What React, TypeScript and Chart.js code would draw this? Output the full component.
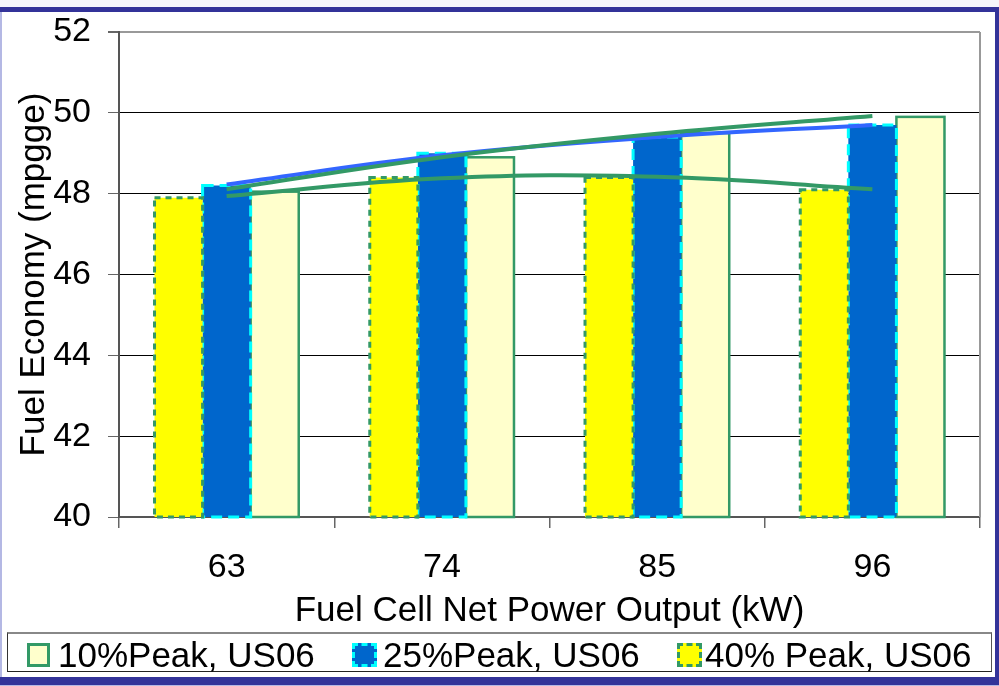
import React, { useEffect, useRef } from 'react';
import { Chart, registerables } from 'chart.js';

Chart.register(...registerables);

const categories = ['63', '74', '85', '96'];
const peak40 = [47.9, 48.4, 48.4, 48.1];
const peak25 = [48.2, 49.0, 49.4, 49.7];
const peak10 = [48.05, 48.9, 49.5, 49.9];
const trend10 = [48.11, 48.9, 49.48, 49.92];
const trend25 = [48.23, 48.95, 49.4, 49.7];
const trend40 = [47.94, 48.38, 48.42, 48.11];
const yMin = 40;
const yMax = 52;
const yStep = 2;
const seriesLabels = ['10%Peak, US06', '25%Peak, US06', '40% Peak, US06'];
const xTitle = 'Fuel Cell Net Power Output (kW)';
const yTitle = 'Fuel Economy (mpgge)';

const FONT = '"Liberation Sans", Arial, sans-serif';
const GREEN = '#339966';
const CYAN = '#00FFFF';
const BLUE = '#0066CC';
const YELLOW = '#FFFF00';
const CREAM = '#FFFFCC';
const TREND_BLUE = '#3366FF';
const FRAME_BLUE = '#333399';

const barBorderPlugin = {
  id: 'barBorder',
  afterDatasetDraw(chart: any, args: any) {
    const ds: any = chart.data.datasets[args.index];
    const b = ds.dashBorder;
    if (!b) return;
    const ctx = chart.ctx;
    const area = chart.chartArea;
    ctx.save();
    ctx.strokeStyle = b.color;
    ctx.lineWidth = b.width;
    ctx.setLineDash(b.dash);
    args.meta.data.forEach((el: any) => {
      const p = el.getProps(['x', 'y', 'base', 'width'], true);
      const l = p.x - p.width / 2;
      const top = Math.max(p.y, area.top);
      const bottom = Math.min(p.base, area.bottom);
      ctx.strokeRect(l, top, p.width, bottom - top);
    });
    ctx.restore();
  },
};

const plotFramePlugin = {
  id: 'plotFrame',
  beforeDatasetsDraw(chart: any) {
    const { ctx, chartArea: a } = chart;
    ctx.save();
    ctx.strokeStyle = '#999';
    ctx.lineWidth = 2;
    ctx.beginPath();
    ctx.moveTo(a.right, a.top);
    ctx.lineTo(a.right, a.bottom);
    ctx.stroke();
    ctx.restore();
  },
};

export default function App() {
  const ref = useRef<HTMLCanvasElement>(null);

  useEffect(() => {
    document.body.style.margin = '0';
    Chart.defaults.font.family = FONT;
    const canvas = ref.current;
    if (!canvas) return;
    const chart = new Chart(canvas, {
      type: 'bar',
      data: {
        labels: categories,
        datasets: [
          {
            type: 'bar',
            label: seriesLabels[2],
            data: peak40,
            backgroundColor: YELLOW,
            borderWidth: 0,
            order: 1,
            categoryPercentage: 0.67,
            barPercentage: 1,
            dashBorder: { color: GREEN, width: 3, dash: [6, 5] },
          } as any,
          {
            type: 'bar',
            label: seriesLabels[1],
            data: peak25,
            backgroundColor: BLUE,
            borderWidth: 0,
            order: 1,
            categoryPercentage: 0.67,
            barPercentage: 1,
            dashBorder: { color: CYAN, width: 3, dash: [11, 6] },
          } as any,
          {
            type: 'bar',
            label: seriesLabels[0],
            data: peak10,
            backgroundColor: CREAM,
            borderWidth: 0,
            order: 1,
            categoryPercentage: 0.67,
            barPercentage: 1,
            dashBorder: { color: GREEN, width: 2.5, dash: [] },
          } as any,
          {
            type: 'line',
            label: 'Trend 10%',
            data: trend10,
            borderColor: GREEN,
            borderWidth: 4,
            pointRadius: 0,
            tension: 0.4,
            fill: false,
            order: 0,
          } as any,
          {
            type: 'line',
            label: 'Trend 25%',
            data: trend25,
            borderColor: TREND_BLUE,
            borderWidth: 4,
            pointRadius: 0,
            tension: 0.4,
            fill: false,
            order: 0,
          } as any,
          {
            type: 'line',
            label: 'Trend 40%',
            data: trend40,
            borderColor: GREEN,
            borderWidth: 4,
            pointRadius: 0,
            tension: 0.4,
            fill: false,
            order: 0,
          } as any,
        ],
      },
      options: {
        animation: false,
        responsive: false,
        layout: { padding: { left: 0, top: 32, right: 19, bottom: 54 } },
        plugins: {
          legend: { display: false },
          tooltip: { enabled: false },
        },
        scales: {
          x: {
            grid: {
              offset: true,
              drawOnChartArea: false,
              tickLength: 11,
              color: '#666',
              lineWidth: 1.5,
            },
            border: { color: '#555', width: 2 },
            ticks: { font: { size: 34, family: FONT }, color: '#000', padding: 19 },
            title: {
              display: true,
              text: xTitle,
              font: { size: 35, family: FONT },
              color: '#000',
              padding: { top: 0, bottom: 0 },
            },
            afterFit: (s: any) => {
              s.height = 115;
              s.paddingLeft = 0;
              s.paddingRight = 0;
            },
          },
          y: {
            min: yMin,
            max: yMax,
            ticks: { stepSize: yStep, font: { size: 34, family: FONT }, color: '#000', padding: 17 },
            grid: {
              color: (c: any) => (c.tick && c.tick.value === yMax ? '#999' : '#000'),
              lineWidth: (c: any) => (c.tick && c.tick.value === yMax ? 2 : 1),
              tickColor: '#666',
              tickLength: 11,
            },
            border: { color: '#555', width: 2 },
            title: {
              display: true,
              text: yTitle,
              font: { size: 35, family: FONT },
              color: '#000',
              padding: { top: 13, bottom: 0 },
            },
            afterFit: (s: any) => {
              s.width = 119;
              s.paddingTop = 0;
              s.paddingBottom = 0;
            },
          },
        },
      } as any,
      plugins: [barBorderPlugin, plotFramePlugin],
    });
    return () => chart.destroy();
  }, []);

  const abs = (s: React.CSSProperties): React.CSSProperties => ({ position: 'absolute', boxSizing: 'border-box', ...s });
  const textStyle = (left: number): React.CSSProperties =>
    abs({ left, top: 637, fontSize: 35, lineHeight: '35px', whiteSpace: 'nowrap', color: '#000', fontFamily: FONT });

  return (
    <div style={{ position: 'relative', width: 999, height: 686, background: '#fff', overflow: 'hidden', fontFamily: FONT }}>
      <canvas ref={ref} width={999} height={686} style={{ position: 'absolute', left: 0, top: 0, width: 999, height: 686 }} />
      <div style={abs({ left: 0, top: 0, width: 999, height: 7, background: '#f5f6fb' })} />
      <div style={abs({ left: 0, top: 7, width: 999, height: 5, background: FRAME_BLUE })} />
      <div style={abs({ left: 0, top: 12, width: 2, height: 674, background: '#b4b8e4' })} />
      <div style={abs({ left: 995, top: 7, width: 4, height: 679, background: FRAME_BLUE })} />
      <div style={abs({ left: 0, top: 677, width: 999, height: 8, background: FRAME_BLUE })} />
      <div style={abs({ left: 0, top: 685, width: 999, height: 1, background: '#b4b8e4' })} />
      <div
        style={abs({
          left: 7,
          top: 632,
          width: 985,
          height: 40,
          borderTop: '2px solid #888',
          borderLeft: '1px solid #333',
          borderRight: '1px solid #555',
          borderBottom: '1px solid #222',
        })}
      />
      <div style={abs({ left: 27, top: 643, width: 23, height: 24, background: CREAM, border: `3px solid ${GREEN}` })} />
      <div style={textStyle(58)}>{seriesLabels[0]}</div>
      <div style={abs({ left: 352, top: 643, width: 25, height: 24, background: BLUE, border: `3px dashed ${CYAN}` })} />
      <div style={textStyle(383)}>{seriesLabels[1]}</div>
      <div style={abs({ left: 677, top: 643, width: 25, height: 24, background: YELLOW, border: `3px dashed ${GREEN}` })} />
      <div style={textStyle(705)}>{seriesLabels[2]}</div>
    </div>
  );
}
